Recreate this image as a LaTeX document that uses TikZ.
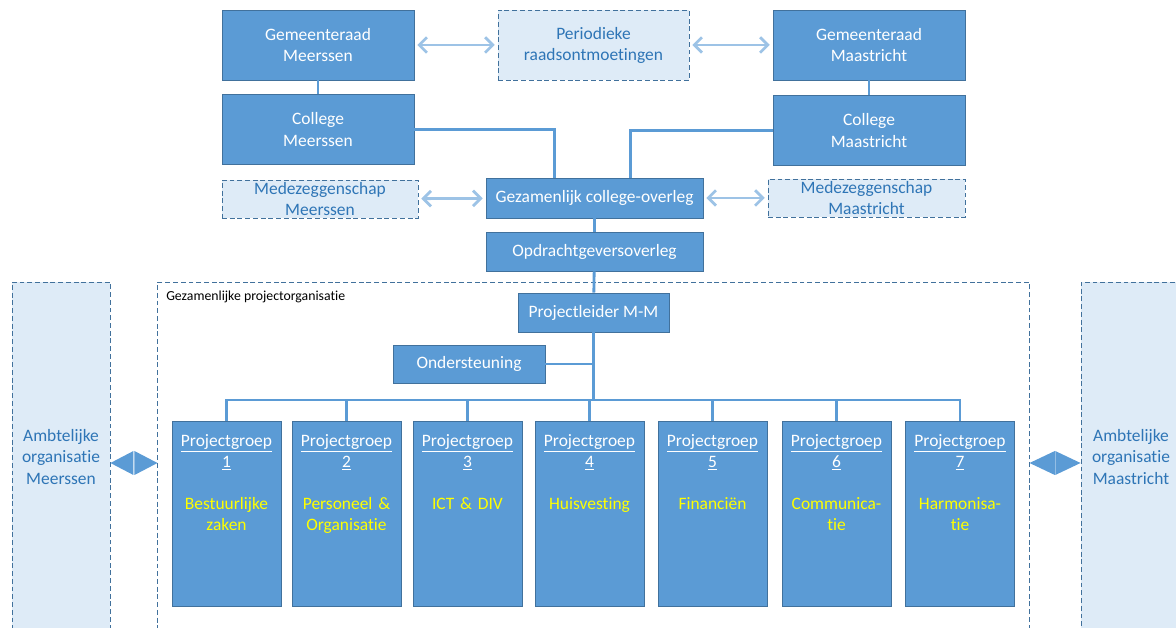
\documentclass[tikz,border=0pt]{standalone}
\usepackage{fontspec}
\setmainfont{Carlito}[Ligatures=NoCommon]
\usepackage{tikz}
\usetikzlibrary{arrows.meta, positioning, calc}

\definecolor{boxblue}{HTML}{5B9BD5}
\definecolor{boxedge}{HTML}{41719C}
\definecolor{softblue}{HTML}{DEEBF7}
\definecolor{paleline}{HTML}{9DC3E6}
\definecolor{textblue}{HTML}{2E75B6}
\definecolor{topicyellow}{HTML}{FFFF00}

\begin{document}
\begin{tikzpicture}[
        x=0.025cm, y=-0.025cm,
        font=\fontsize{12.4}{15}\selectfont,
        orgbox/.style={rectangle, draw=boxedge, fill=boxblue, text=white, align=center,
            inner sep=0pt, line width=0.6pt},
        softbox/.style={rectangle, draw=boxedge, fill=softblue, text=textblue, align=center,
            inner sep=0pt, line width=0.6pt, dash pattern=on 3.5pt off 2pt},
        frame/.style={rectangle, draw=boxedge, inner sep=0pt, line width=0.6pt,
            dash pattern=on 3.5pt off 2pt},
        groupbox/.style={orgbox, minimum width=2.725cm, minimum height=4.625cm},
        grouptext/.style={anchor=north, inner sep=0pt, align=center, text width=2.7cm, text=white},
        link/.style={draw=boxblue, line width=2pt},
        twoway/.style={{Straight Barb[length=5.5pt, width=11pt]}-{Straight Barb[length=5.5pt, width=11pt]},
            draw=paleline, line width=2pt, shorten <=2pt, shorten >=2pt},
        fat/.style={fill=boxblue}
    ]
        \clip (0,0) rectangle (1176,628);
        \useasboundingbox (0,0) rectangle (1176,628);

        % top level
        \node[orgbox, minimum width=4.8cm, minimum height=1.75cm] (raadMe) at (318,45) {Gemeenteraad\\Meerssen};
        \node[softbox, minimum width=4.775cm, minimum height=1.75cm] (periodiek) at (593.5,45) {Periodieke\\raadsontmoetingen};
        \node[orgbox, minimum width=4.8cm, minimum height=1.75cm] (raadMa) at (869,45) {Gemeenteraad\\Maastricht};
        \node[orgbox, minimum width=4.8cm, minimum height=1.75cm] (collegeMe) at (318,129.5) {College\\Meerssen};
        \node[orgbox, minimum width=4.8cm, minimum height=1.75cm] (collegeMa) at (869,130.5) {College\\Maastricht};

        \node[softbox, minimum width=4.9cm, minimum height=0.95cm] (mzMe) at (320,199) {Medezeggenschap\\Meerssen};
        \node[orgbox, minimum width=5.425cm, minimum height=1cm] (overleg) at (594.5,198) {Gezamenlijk college-overleg};
        \node[softbox, minimum width=4.925cm, minimum height=0.95cm] (mzMa) at (866.5,198) {Medezeggenschap\\Maastricht};
        \node[orgbox, minimum width=5.425cm, minimum height=0.975cm] (opdracht) at (594.5,251.5) {Opdrachtgeversoverleg};

        \draw[link] (raadMe) -- (collegeMe);
        \draw[link] (raadMa) -- (collegeMa);
        \draw[link] (collegeMe.east) -| ([xshift=-0.99cm]overleg.north);
        \draw[link] (collegeMa.west) -| ([xshift=0.89cm]overleg.north);
        \draw[link] (overleg) -- (opdracht);

        \draw[twoway] (raadMe) -- (periodiek);
        \draw[twoway] (periodiek) -- (raadMa);
        \draw[twoway] (mzMe) -- (overleg);
        \draw[twoway] (overleg) -- (mzMa);

        % project organisation
        \node[frame, minimum width=21.775cm, minimum height=8.95cm] (projorg) at (593.5,461) {};
        \node[anchor=west, inner sep=0pt, font=\fontsize{9.8}{11}\selectfont] (projlabel) at (166,297) {Gezamenlijke projectorganisatie};

        \node[softbox, minimum width=2.45cm, minimum height=8.75cm] (ambMe) at (61,457) {Ambtelijke\\organisatie\\Meerssen};
        \node[softbox, minimum width=2.5cm, minimum height=8.75cm] (ambMa) at (1131,457) {Ambtelijke\\organisatie\\Maastricht};

        \node[orgbox, minimum width=3.775cm, minimum height=0.975cm] (leider) at (593.5,312.5) {Projectleider M-M};
        \node[orgbox, minimum width=3.8cm, minimum height=0.95cm] (steun) at (469,364) {Ondersteuning};
        \coordinate (bus) at (594,400);

        \draw[link] (opdracht) -- (leider);
        \draw[link] (leider.south) -- (leider.south |- bus);
        \draw[link] (steun.east) -- (steun.east -| leider.south);

        \foreach \px/\num/\what in {226.5/1/{Bestuurlijke\\zaken}, 346.5/2/{Personeel \&\\Organisatie},
                467.5/3/{ICT \& DIV}, 589.5/4/{Huisvesting}, 712.5/5/{Financiën},
                836.5/6/{Communica-\\tie}, 960/7/{Harmonisa-\\tie}} {
            \node[groupbox] (pg\num) at (\px,513.5) {};
            \node[grouptext] (pgtext\num) at (\px,434) {\underline{Projectgroep}\\\underline{\num}\\[15pt]\textcolor{topicyellow}{\what}};
            \draw[link] (pg\num.north) -- (pg\num.north |- bus);
        }
        \draw[link] ([xshift=-1pt]pg1.north |- bus) -- ([xshift=1pt]pg7.north |- bus);

        % links to the civil service
        \coordinate (fatY) at (0,463);
        \fill[fat] (ambMe.east |- fatY) -- ++(23,-12) -- ++(0,24) -- cycle;
        \fill[fat] (projorg.west |- fatY) -- ++(-23,-12) -- ++(0,24) -- cycle;
        \fill[fat] (projorg.east |- fatY) -- ++(25.3,-12) -- ++(0,24) -- cycle;
        \fill[fat] (ambMa.west |- fatY) -- ++(-25.3,-12) -- ++(0,24) -- cycle;
    \end{tikzpicture}
\end{document}
